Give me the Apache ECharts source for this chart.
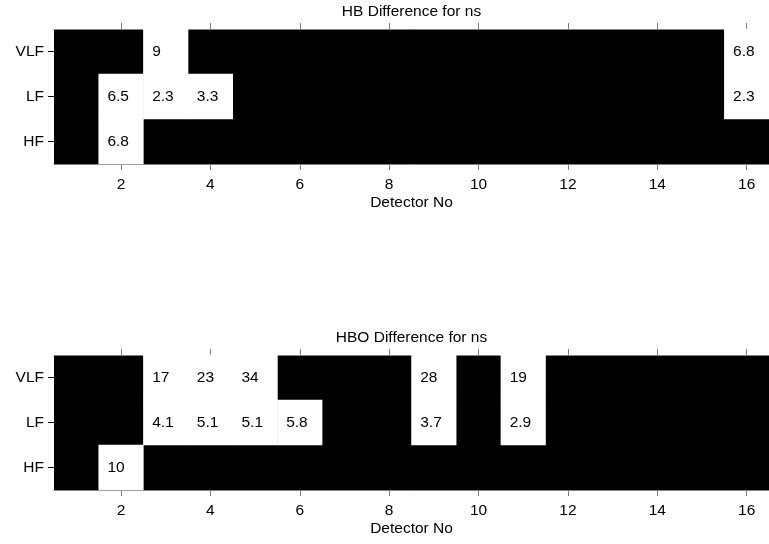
<!DOCTYPE html>
<html>
<head>
<meta charset="utf-8">
<script src="https://cdn.jsdelivr.net/npm/echarts@6/dist/echarts.min.js"></script>
<style>
  html, body { margin: 0; padding: 0; background: #fff; }
  #chart { width: 769px; height: 544px; }
</style>
</head>
<body>
<div id="chart"></div>
<script>
// Detector numbers along x, frequency bands along y (bottom to top)
const detectors = [1, 2, 3, 4, 5, 6, 7, 8, 9, 10, 11, 12, 13, 14, 15, 16];
const bands = ['HF', 'LF', 'VLF'];

// HB differences per detector (null = not significant)
const hbVLF = [null, null, 9, null, null, null, null, null, null, null, null, null, null, null, null, 6.8];
const hbLF  = [null, 6.5, 2.3, 3.3, null, null, null, null, null, null, null, null, null, null, null, 2.3];
const hbHF  = [null, 6.8, null, null, null, null, null, null, null, null, null, null, null, null, null, null];

// HBO differences per detector
const hboVLF = [null, null, 17, 23, 34, null, null, null, 28, null, 19, null, null, null, null, null];
const hboLF  = [null, null, 4.1, 5.1, 5.1, 5.8, null, null, 3.7, null, 2.9, null, null, null, null, null];
const hboHF  = [null, 10, null, null, null, null, null, null, null, null, null, null, null, null, null, null];

const titles = ['HB Difference for ns', 'HBO Difference for ns'];
const xName = 'Detector No';

function cells(rows) {
  const out = [];
  rows.forEach((row, yi) => {
    row.forEach((v, xi) => {
      if (v !== null) out.push([xi, yi, v]);
    });
  });
  return out;
}

const FONT = 'Liberation Sans, Arial, Helvetica, sans-serif';
const FS = 15.5;
const gridTops = [29, 355];
const plotH = 135;
const axisGray = '#7f7f7f';

const evenOnly = (i) => (i + 1) % 2 === 0;

const grids = gridTops.map(t => ({
  left: 54, right: 0, top: t, height: plotH,
  show: true, backgroundColor: '#000', borderWidth: 0
}));

const xAxes = [];
const yAxes = [];
[0, 1].forEach(g => {
  // bottom axis with labels
  xAxes.push({
    type: 'category', gridIndex: g, data: detectors, position: 'bottom',
    name: xName, nameLocation: 'middle', nameGap: 31,
    nameTextStyle: { color: '#000', fontSize: FS, fontFamily: FONT },
    axisLine: { show: true, lineStyle: { color: axisGray, width: 1 } },
    axisTick: { show: true, alignWithLabel: true, interval: evenOnly, length: 6, lineStyle: { color: axisGray } },
    axisLabel: { interval: evenOnly, color: '#000', fontSize: FS, fontFamily: FONT, margin: 13 },
    splitLine: { show: false }
  });
  // top axis: box edge with ticks only
  xAxes.push({
    type: 'category', gridIndex: g, data: detectors, position: 'top',
    axisLine: { show: true, lineStyle: { color: axisGray, width: 1 } },
    axisTick: { show: true, alignWithLabel: true, interval: evenOnly, length: 6, lineStyle: { color: axisGray } },
    axisLabel: { show: false },
    splitLine: { show: false }
  });
  yAxes.push({
    type: 'category', gridIndex: g, data: bands,
    axisLine: { show: false },
    axisTick: { show: true, alignWithLabel: true, length: 6, lineStyle: { color: '#000' } },
    axisLabel: { color: '#000', fontSize: FS, fontFamily: FONT, margin: 10 },
    splitLine: { show: false }
  });
});

const labelStyle = {
  show: true,
  position: [9, '50%'],
  align: 'left',
  verticalAlign: 'middle',
  color: '#000',
  fontSize: FS,
  fontFamily: FONT,
  formatter: p => String(p.value[2])
};

const option = {
  animation: false,
  backgroundColor: '#fff',
  title: titles.map((t, i) => ({
    text: t,
    left: 411.5, textAlign: 'center',
    top: gridTops[i] - 25,
    padding: 0,
    textStyle: { color: '#000', fontSize: FS, fontWeight: 'normal', fontFamily: FONT }
  })),
  grid: grids,
  xAxis: xAxes,
  yAxis: yAxes,
  series: [
    {
      type: 'heatmap', xAxisIndex: 0, yAxisIndex: 0,
      data: cells([hbHF, hbLF, hbVLF]),
      itemStyle: { color: '#fff', borderWidth: 0 },
      label: labelStyle,
      emphasis: { disabled: true }
    },
    {
      type: 'heatmap', xAxisIndex: 2, yAxisIndex: 1,
      data: cells([hboHF, hboLF, hboVLF]),
      itemStyle: { color: '#fff', borderWidth: 0 },
      label: labelStyle,
      emphasis: { disabled: true }
    }
  ]
};

const chart = echarts.init(document.getElementById('chart'), null, { renderer: 'canvas' });
chart.setOption(option);
</script>
</body>
</html>
